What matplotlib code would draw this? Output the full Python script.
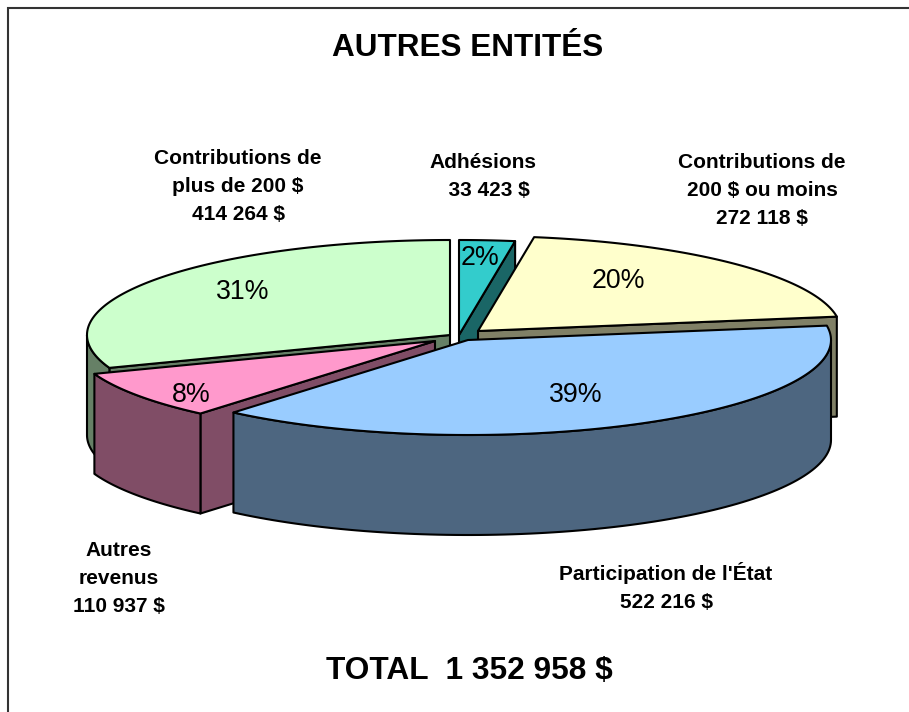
import numpy as np
import matplotlib
matplotlib.use('Agg')
import matplotlib.pyplot as plt
from matplotlib.patches import Polygon

plt.rcParams['font.family'] = ['Liberation Sans', 'DejaVu Sans']

# clockwise from 12 o'clock
labels = ['Adhésions', 'Contributions de\n200 $ ou moins', "Participation de l'État",
          'Autres\nrevenus', 'Contributions de\nplus de 200 $']
values = [33423, 272118, 522216, 110937, 414264]
title = 'AUTRES ENTITÉS'

top_colors = ['#33CCCC', '#FFFFCC', '#99CCFF', '#FF99CC', '#CCFFCC']
side_colors = ['#1A6666', '#808066', '#4D6680', '#804D66', '#668066']

# layout, in image pixels
apex_x = [459, 478, 468, 435, 450]
apex_y = [335, 331, 340, 341, 335]
label_x = [483, 762, 666, 119, 238]
label_y = [177, 191, 587, 579, 187]
value_pad = ['  ', '', '', '', '']
pct_x = [480, 618, 576, 191, 243]
pct_y = [258, 281, 395, 395, 292]
draw_order = [4, 0, 1, 3, 2]
RX, RY, DEPTH = 363, 95, 100
LW = 1.5


def fmt(v):
    return format(v, ',').replace(',', ' ')


def rim(i, t):
    t = np.radians(t)
    return apex_x[i] + RX * np.sin(t), apex_y[i] - RY * np.cos(t)


def draw_slice(ax, i, t0, t1):
    def face(xs, ys, color):
        ax.add_patch(Polygon(np.column_stack([xs, ys]), closed=True, facecolor=color,
                             edgecolor='black', linewidth=LW, joinstyle='round'))

    # cut faces, only those turned to the viewer
    for t, show in ((t0, np.sin(np.radians(t0)) < -1e-6), (t1, np.sin(np.radians(t1)) > 1e-6)):
        if show:
            x, y = rim(i, t)
            face([apex_x[i], x, x, apex_x[i]],
                 [apex_y[i], y, y + DEPTH, apex_y[i] + DEPTH], side_colors[i])

    # outer wall
    a, b = max(t0, 90), min(t1, 270)
    if a < b:
        x, y = rim(i, np.linspace(a, b, 100))
        face(np.r_[x, x[::-1]], np.r_[y, y[::-1] + DEPTH], side_colors[i])

    # top
    x, y = rim(i, np.linspace(t0, t1, 150))
    face(np.r_[apex_x[i], x], np.r_[apex_y[i], y], top_colors[i])


fig = plt.figure(figsize=(9.09, 7.12), dpi=100)
ax = fig.add_axes([0, 0, 1, 1])
ax.set_xlim(0, 909)
ax.set_ylim(712, 0)
ax.axis('off')

# chart frame, runs off the image on the right and bottom
ax.plot([8, 8, 909], [712, 8, 8], color='#333333', linewidth=1.5, solid_joinstyle='miter')

total = sum(values)
edges = np.r_[0, np.cumsum(values)] / total * 360
for i in draw_order:
    draw_slice(ax, i, edges[i], edges[i + 1])

for i in range(len(values)):
    ax.text(pct_x[i], pct_y[i], '%d%%' % round(100 * values[i] / total),
            fontsize=19.3, ha='center', va='center')
    ax.text(label_x[i], label_y[i], labels[i] + '\n' + value_pad[i] + fmt(values[i]) + ' $',
            fontsize=15, fontweight='bold', ha='center', va='center', linespacing=1.6)

ax.text(468, 48, title, fontsize=22.7, fontweight='bold', ha='center', va='center')
ax.text(469, 671, 'TOTAL  ' + fmt(total) + ' $', fontsize=22.8, fontweight='bold',
        ha='center', va='center')

fig.savefig('out.png', dpi=100)
